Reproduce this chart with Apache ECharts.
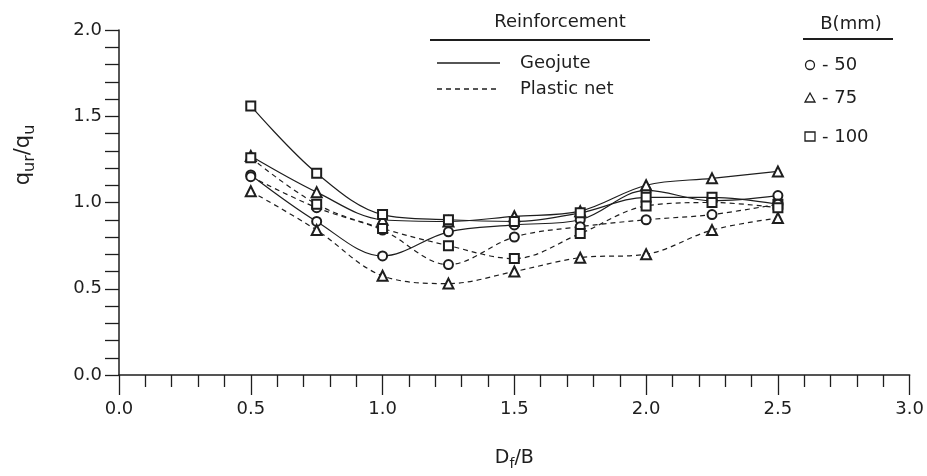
<!DOCTYPE html>
<html>
<head>
<meta charset="utf-8">
<script src="https://cdn.jsdelivr.net/npm/echarts@6/dist/echarts.min.js"></script>
<style>
html,body{margin:0;padding:0;background:#fff;}
#chart{width:927px;height:476px;}
</style>
</head>
<body>
<div id="chart"></div>
<script>
// D_f/B values at which readings were taken
const xValues = [0.5, 0.75, 1.0, 1.25, 1.5, 1.75, 2.0, 2.25, 2.5];
// q_ur/q_u — Geojute (solid lines)
const geojute50  = [1.16, 0.89, 0.69, 0.83, 0.87, 0.90, 1.07, 1.01, 1.04];
const geojute75  = [1.27, 1.06, 0.90, 0.89, 0.92, 0.95, 1.10, 1.14, 1.18];
const geojute100 = [1.56, 1.17, 0.93, 0.90, 0.89, 0.94, 1.03, 1.03, 0.99];
// q_ur/q_u — Plastic net (dashed lines)
const plastic50  = [1.15, 0.97, 0.84, 0.64, 0.80, 0.86, 0.90, 0.93, 0.99];
const plastic75  = [1.065, 0.84, 0.575, 0.53, 0.60, 0.68, 0.70, 0.84, 0.91];
const plastic100 = [1.26, 0.99, 0.85, 0.75, 0.675, 0.82, 0.98, 1.00, 0.97];
// axis ticks
const xTicks = [0.0, 0.5, 1.0, 1.5, 2.0, 2.5, 3.0];
const yTicks = [0.0, 0.5, 1.0, 1.5, 2.0];
const widths = ['50', '75', '100'];

const INK = '#1e1e1e';
const FONT = 'DejaVu Sans';

function pairs(arr){ return xValues.map((x,i)=>[x, arr[i]]); }

function mk(name, data, symbol, dashed){
  return {
    name: name, type: 'line', data: pairs(data),
    smooth: 0.35,
    symbol: symbol, symbolSize: symbol === 'emptyTriangle' ? 10 : 9,
    lineStyle: {color: INK, width: 1.2, type: dashed ? [5,4] : 'solid'},
    itemStyle: {color: INK, borderColor: INK, borderWidth: 1.2},
    z: 3
  };
}

const chart = echarts.init(document.getElementById('chart'), null, {renderer: 'canvas'});
const option = {
  backgroundColor: '#fff',
  animation: false,
  grid: {left: 119, right: 12, top: 30, bottom: 97},
  xAxis: {
    type: 'value', min: xTicks[0], max: xTicks[xTicks.length-1], interval: 0.5,
    axisLine: {lineStyle: {color: INK, width: 1.5}},
    axisTick: {show: true, length: 20, lineStyle: {color: INK, width: 1.3}},
    minorTick: {show: true, splitNumber: 5, length: 12, lineStyle: {color: INK, width: 1.3}},
    splitLine: {show: false},
    axisLabel: {color: INK, fontFamily: FONT, fontSize: 18, margin: 25,
      formatter: v => v.toFixed(1)},
    name: 'D{sub|f}/B', nameLocation: 'middle', nameGap: 70,
    nameTextStyle: {color: INK, fontFamily: FONT, fontSize: 19,
      rich: {sub: {fontSize: 14, verticalAlign: 'bottom', padding: [12,0,0,0], fontFamily: FONT, color: INK}}}
  },
  yAxis: {
    type: 'value', min: yTicks[0], max: yTicks[yTicks.length-1], interval: 0.5,
    axisLine: {show: true, lineStyle: {color: INK, width: 1.5}},
    axisTick: {show: true, length: 14, lineStyle: {color: INK, width: 1.3}},
    minorTick: {show: true, splitNumber: 5, length: 14, lineStyle: {color: INK, width: 1.3}},
    splitLine: {show: false},
    axisLabel: {color: INK, fontFamily: FONT, fontSize: 18, margin: 17,
      formatter: v => v.toFixed(1)}
  },
  series: [
    mk('Geojute 50', geojute50, 'emptyCircle', false),
    mk('Geojute 75', geojute75, 'emptyTriangle', false),
    mk('Geojute 100', geojute100, 'emptyRect', false),
    mk('Plastic net 50', plastic50, 'emptyCircle', true),
    mk('Plastic net 75', plastic75, 'emptyTriangle', true),
    mk('Plastic net 100', plastic100, 'emptyRect', true)
  ],
  graphic: [
    // y axis title
    {type: 'text', x: 24, y: 155, rotation: Math.PI/2,
      style: {text: 'q{s|ur}/q{s|u}', fill: INK, font: '21px "DejaVu Sans"',
        align: 'center', verticalAlign: 'middle',
        rich: {s: {fontSize: 16, fontFamily: FONT, fill: INK, padding: [12,0,0,0]}}}},
    // Reinforcement legend
    {type: 'text', x: 560, y: 22, style: {text: 'Reinforcement', fill: INK, font: '18px "DejaVu Sans"', align: 'center', verticalAlign: 'middle'}},
    {type: 'line', shape: {x1: 430, y1: 40, x2: 650, y2: 40}, style: {stroke: INK, lineWidth: 2.2}},
    {type: 'line', shape: {x1: 437, y1: 63, x2: 500, y2: 63}, style: {stroke: INK, lineWidth: 1.3}},
    {type: 'text', x: 520, y: 63, style: {text: 'Geojute', fill: INK, font: '18px "DejaVu Sans"', align: 'left', verticalAlign: 'middle'}},
    {type: 'line', shape: {x1: 437, y1: 89, x2: 500, y2: 89}, style: {stroke: INK, lineWidth: 1.3, lineDash: [5,4]}},
    {type: 'text', x: 520, y: 89, style: {text: 'Plastic net', fill: INK, font: '18px "DejaVu Sans"', align: 'left', verticalAlign: 'middle'}},
    // B(mm) legend
    {type: 'text', x: 851, y: 24, style: {text: 'B(mm)', fill: INK, font: '18px "DejaVu Sans"', align: 'center', verticalAlign: 'middle'}},
    {type: 'line', shape: {x1: 803, y1: 39, x2: 893, y2: 39}, style: {stroke: INK, lineWidth: 2.2}},
    {type: 'circle', shape: {cx: 810, cy: 65, r: 4.5}, style: {stroke: INK, fill: '#fff', lineWidth: 1.3}},
    {type: 'text', x: 822, y: 65, style: {text: '- ' + widths[0], fill: INK, font: '18px "DejaVu Sans"', align: 'left', verticalAlign: 'middle'}},
    {type: 'polygon', shape: {points: [[810, 93], [815, 102], [805, 102]]}, style: {stroke: INK, fill: '#fff', lineWidth: 1.3}},
    {type: 'text', x: 822, y: 98, style: {text: '- ' + widths[1], fill: INK, font: '18px "DejaVu Sans"', align: 'left', verticalAlign: 'middle'}},
    {type: 'rect', shape: {x: 805, y: 132, width: 10, height: 9}, style: {stroke: INK, fill: '#fff', lineWidth: 1.3}},
    {type: 'text', x: 822, y: 137, style: {text: '- ' + widths[2], fill: INK, font: '18px "DejaVu Sans"', align: 'left', verticalAlign: 'middle'}}
  ]
};
chart.setOption(option);
</script>
</body>
</html>
